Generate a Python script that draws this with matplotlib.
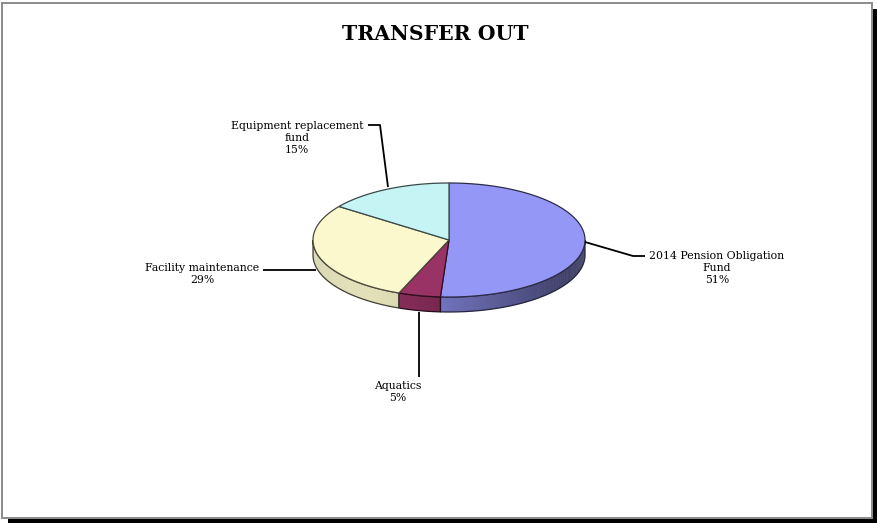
import numpy as np
import matplotlib
matplotlib.use("Agg")
import matplotlib.pyplot as plt
from matplotlib.patches import Polygon, Rectangle
from matplotlib.colors import to_rgb

# ---- data ----
categories = ["2014 Pension Obligation\nFund", "Aquatics", "Facility maintenance", "Equipment replacement\nfund"]
values = [51, 5, 29, 15]
colors = ["#9597F7", "#993366", "#FAF8CC", "#C6F4F4"]
title = "TRANSFER OUT"

W, H = 878, 523
fig = plt.figure(figsize=(W / 100, H / 100), dpi=100)
ax = fig.add_axes([0, 0, 1, 1])
ax.set_xlim(0, W)
ax.set_ylim(H, 0)
ax.axis("off")

# ---- frame with drop shadow ----
ax.add_patch(Rectangle((873, 9), 5, H - 9, facecolor="black", edgecolor="none", zorder=1))
ax.add_patch(Rectangle((8, 519), W - 8, 4, facecolor="black", edgecolor="none", zorder=1))
ax.add_patch(Rectangle((2.5, 3), 869.5, 515, facecolor="white", edgecolor="#8a8a8a", lw=1.4, zorder=2))

ax.text(435, 34, title, ha="center", va="center", fontsize=14.7, fontweight="heavy",
        family="DejaVu Serif", zorder=10)

# ---- 3D pie geometry ----
cx, cy = 449, 240
ra, rb = 136, 57
depth = 15
start = 90.0

def pt(theta_deg, dz=0.0):
    t = np.radians(theta_deg)
    return cx + ra * np.cos(t), cy - rb * np.sin(t) + dz

fracs = np.array(values, dtype=float) / sum(values)
spans = []
hi = start
for f in fracs:
    lo = hi - f * 360
    spans.append((lo, hi))
    hi = lo

def darker(c, k):
    r, g, b = to_rgb(c)
    return (min(r * k, 1), min(g * k, 1), min(b * k, 1))

def wall_shade(theta_rad):
    c = np.cos(theta_rad)
    if c >= 0:
        return 0.74 - 0.36 * c
    return 0.74 - 0.5 * c - 0.38 * c * c

# side walls (front half only)
for (lo, hi), col in zip(spans, colors):
    for k in (-360, 0, 360):
        a0 = max(lo, 180 + k)
        a1 = min(hi, 360 + k)
        if a1 <= a0:
            continue
        th = np.linspace(a0, a1, max(int((a1 - a0) * 2), 2) + 1)
        for t0, t1 in zip(th[:-1], th[1:]):
            s = wall_shade(np.radians((t0 + t1) / 2))
            t1e = min(t1 + 0.4, a1)
            quad = [pt(t0), pt(t1e), pt(t1e, depth), pt(t0, depth)]
            ax.add_patch(Polygon(quad, closed=True, facecolor=darker(col, s),
                                 edgecolor="none", zorder=3))
        top = [pt(t) for t in th]
        bot = [pt(t, depth) for t in th[::-1]]
        ax.add_patch(Polygon(top + bot, closed=True, facecolor="none",
                             edgecolor=darker(col, 0.25), lw=0.9, zorder=4))

# top faces
for (lo, hi), col in zip(spans, colors):
    th = np.linspace(hi, lo, max(int((hi - lo) * 2), 2) + 1)
    poly = [(cx, cy)] + [pt(t) for t in th]
    ax.add_patch(Polygon(poly, closed=True, facecolor=col,
                         edgecolor=darker(col, 0.3), lw=0.9, zorder=5))

# ---- labels and leader lines ----
lab_font = dict(fontsize=7.8, family="DejaVu Serif", ha="center", va="center",
                linespacing=1.3, zorder=10)
label_pos = [(717, 268), (398, 392), (202, 274), (297, 138)]
leaders = [
    [(585, 242), (633, 256), (645, 256)],
    [(419, 312), (419, 377)],
    [(316, 270), (263, 270)],
    [(388, 187), (380, 125), (368, 125)],
]
for name, v, (lx, ly), ld in zip(categories, values, label_pos, leaders):
    ax.text(lx, ly, f"{name}\n{v}%", **lab_font)
    xs, ys = zip(*ld)
    ax.plot(xs, ys, color="black", lw=1.3, solid_capstyle="butt", zorder=9)

fig.savefig("out.png", dpi=100)
